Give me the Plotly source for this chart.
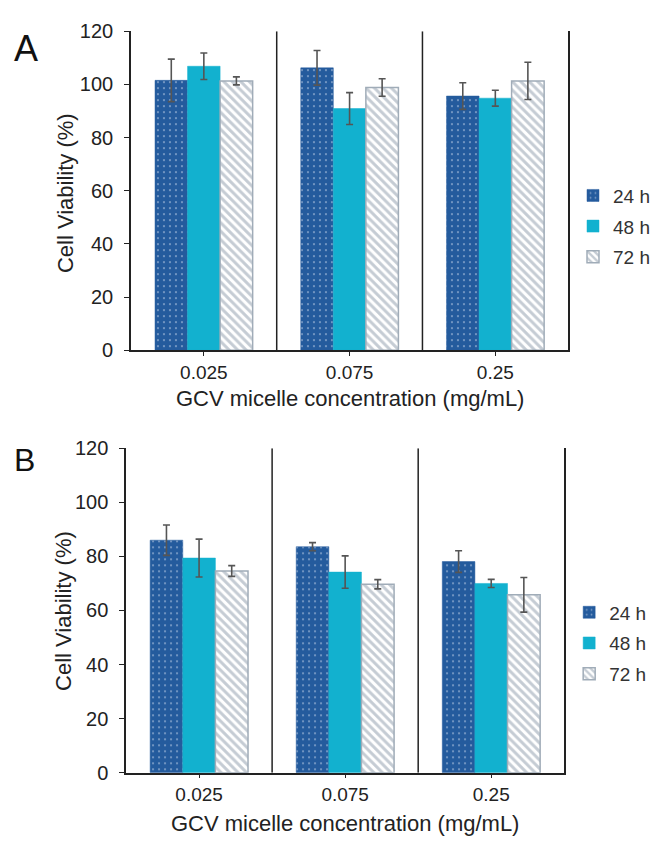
import plotly.graph_objects as go

categories = ["0.025", "0.075", "0.25"]
series_names = ["24 h", "48 h", "72 h"]

# Panel A values and errors
a_24 = [101.5, 106.2, 95.6]
a_48 = [106.8, 90.9, 94.8]
a_72 = [101.3, 98.8, 101.3]
a_24_err = [8.0, 6.5, 5.0]
a_48_err = [5.0, 6.0, 3.0]
a_72_err = [1.5, 3.3, 7.0]

# Panel B values and errors
b_24 = [86.0, 83.6, 78.1]
b_48 = [79.4, 74.2, 70.0]
b_72 = [74.6, 69.7, 65.8]
b_24_err = [5.6, 1.5, 4.0]
b_48_err = [7.0, 6.0, 1.5]
b_72_err = [2.0, 1.7, 6.4]

y_ticks = [0, 20, 40, 60, 80, 100, 120]

C24 = "#245B9D"
C48 = "#12B1CF"
C72 = "#8C9AA9"
ERR = "#555555"
FONT = "Liberation Sans, Arial, sans-serif"

styles = [
    dict(marker=dict(color=C24, line=dict(color=C24, width=0.5),
                     pattern=dict(shape=".", fgcolor="#dfe8f5", bgcolor=C24,
                                  size=6, solidity=0.1, fillmode="overlay"))),
    dict(marker=dict(color=C48, line=dict(color=C48, width=0.5))),
    dict(marker=dict(color="#ffffff", line=dict(color="#A0ACB8", width=1.5),
                     pattern=dict(shape="\\", fgcolor=C72, bgcolor="#ffffff",
                                  size=6, solidity=0.5, fillmode="overlay"))),
]

fig = go.Figure()

panels = [
    ("x", "y", "legend", [a_24, a_48, a_72], [a_24_err, a_48_err, a_72_err]),
    ("x2", "y2", "legend2", [b_24, b_48, b_72], [b_24_err, b_48_err, b_72_err]),
]

for xa, ya, lg, vals, errs in panels:
    for i, name in enumerate(series_names):
        fig.add_trace(go.Bar(
            x=categories, y=vals[i], name=name,
            xaxis=xa, yaxis=ya, legend=lg, legendgroup=lg + name,
            error_y=dict(type="data", array=errs[i], visible=True,
                         color=ERR, thickness=1.6, width=3.5),
            **styles[i],
        ))

axis_common_x = dict(
    type="category", range=[-0.5, 2.5], showline=True, linecolor="#222222",
    linewidth=1.5, ticks="outside", ticklen=4, tickcolor="#222222",
    tickfont=dict(family=FONT, size=19, color="#222222"), showgrid=False,
    zeroline=False, fixedrange=True, ticklabelstandoff=0,
)
axis_common_y = dict(
    range=[0, 120], tickvals=y_ticks, showline=True, linecolor="#222222",
    linewidth=1.5, ticks="outside", ticklen=5, tickcolor="#222222",
    tickfont=dict(family=FONT, size=20, color="#222222"), showgrid=False,
    zeroline=False, ticklabelstandoff=7, mirror=True,
)

legend_font = dict(family=FONT, size=19, color="#333333")

fig.update_layout(
    width=655, height=845,
    margin=dict(l=0, r=0, t=0, b=0),
    paper_bgcolor="white", plot_bgcolor="white",
    barmode="group", bargap=0.33, bargroupgap=0,
    font=dict(family=FONT, color="#222222"),
    showlegend=True,
    xaxis=dict(domain=[133/655, 577/655], anchor="y", **axis_common_x),
    yaxis=dict(domain=[1-348.3/845, 1-20.7/845], anchor="x", **axis_common_y),
    xaxis2=dict(domain=[128/655, 573/655], anchor="y2", **axis_common_x),
    yaxis2=dict(domain=[1-782/845, 1-449/845], anchor="x2", **axis_common_y),
    legend=dict(x=582/655, y=1-170/845, xanchor="left", yanchor="top",
                font=legend_font, tracegroupgap=3, bgcolor="rgba(0,0,0,0)"),
    legend2=dict(x=578/655, y=1-598/845, xanchor="left", yanchor="top",
                 font=legend_font, tracegroupgap=3, bgcolor="rgba(0,0,0,0)"),
)

# divider lines between categories
for xr, yr in (("x", "y"), ("x2", "y2")):
    for xv in (0.5, 1.5):
        fig.add_shape(type="line", xref=xr, yref=yr, x0=xv, x1=xv, y0=0, y1=120,
                      line=dict(color="#222222", width=1.5))

def ann(text, xc, yc, size, angle=0, color="#222222"):
    fig.add_annotation(text=text, x=xc/655, y=1-yc/845, xref="paper", yref="paper",
                       xanchor="center", yanchor="middle", showarrow=False,
                       textangle=angle, font=dict(family=FONT, size=size, color=color))

# panel letters and axis titles
ann("A", 26, 38, 36, color="#111111")
ann("B", 25, 461, 32, color="#111111")
ann("Cell Viability (%)", 66, 187, 22, angle=-90)
ann("Cell Viability (%)", 65, 616, 22, angle=-90)
ann("GCV micelle concentration (mg/mL)", 355, 398, 22)
ann("GCV micelle concentration (mg/mL)", 350, 834, 22)

fig.write_html("out.html")
